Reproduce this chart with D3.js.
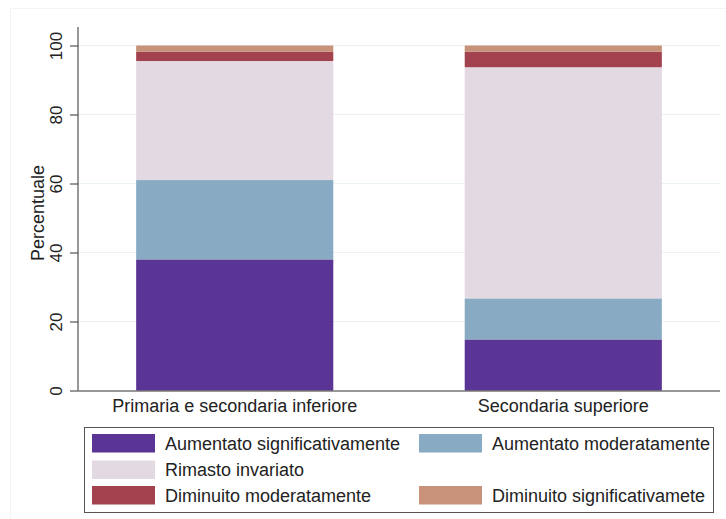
<!DOCTYPE html>
<html>
<head>
    <meta charset="utf-8" />
    <title>Percentuale</title>
    <style>
        body {
            margin: 0;
            background: #fff;
            font-family: "Liberation Sans", Arial, Helvetica, sans-serif;
        }

        .tick-label {
            font-size: 17px;
            fill: #222;
        }

        .axis-title {
            font-size: 18px;
            fill: #222;
            text-anchor: middle;
        }

        .cat-label {
            font-size: 18px;
            fill: #222;
            text-anchor: middle;
        }

        .legend-label {
            font-size: 18px;
            fill: #222;
        }
    </style>
</head>
<body>
    <script src="https://d3js.org/d3.v7.min.js"></script>
    <script>
        let categories = ['Primaria e secondaria inferiore', 'Secondaria superiore']

        let seriesNames = [
            'Aumentato significativamente',
            'Aumentato moderatamente',
            'Rimasto invariato',
            'Diminuito moderatamente',
            'Diminuito significativamete'
        ]

        let seriesColors = ['#5b3596', '#88abc3', '#e3d9e2', '#a3424f', '#c8927a']

        // one array per series, values per category
        let aumSig = [38.0, 14.8]
        let aumMod = [23.0, 11.9]
        let invariato = [34.5, 67.0]
        let dimMod = [2.7, 4.5]
        let dimSig = [1.8, 1.8]

        let yTicks = [0, 20, 40, 60, 80, 100]

        let seriesValues = [aumSig, aumMod, invariato, dimMod, dimSig]

        let width = 726,
            height = 519

        let plot = { left: 78, right: 720, top: 45.5, bottom: 390.5 }

        let y = d3.scaleLinear()
                    .domain([0, 100])
                    .range([plot.bottom, plot.top])

        let x = d3.scaleBand()
                    .domain(categories)
                    .range([plot.left, plot.right])
                    .paddingInner(0.4)
                    .paddingOuter(0.177)

        let svg = d3.select('body')
                    .append('svg')
                    .attr('width', width)
                    .attr('height', height)

        // faint outer frame
        svg.append('rect')
            .attr('x', 10.5)
            .attr('y', 8.5)
            .attr('width', width - 10)
            .attr('height', height)
            .attr('fill', 'none')
            .attr('stroke', '#f2f4f4')

        // gridlines
        svg.append('g')
            .selectAll('line')
            .data(yTicks.filter(d => d > 0))
            .enter()
                .append('line')
                .attr('x1', plot.left)
                .attr('x2', plot.right)
                .attr('y1', d => y(d))
                .attr('y2', d => y(d))
                .attr('stroke', '#eaf2f2')
                .attr('stroke-width', 1)

        // stacked bars
        let stackData = categories.map(function (c, i) {
            let row = { cat: c }
            seriesNames.forEach(function (s, j) { row[s] = seriesValues[j][i] })
            return row
        })

        let stacked = d3.stack().keys(seriesNames)(stackData)

        svg.append('g')
            .selectAll('g')
            .data(stacked)
            .enter()
                .append('g')
                .attr('fill', (d, i) => seriesColors[i])
                .selectAll('rect')
                .data(d => d)
                .enter()
                    .append('rect')
                    .attr('x', d => x(d.data.cat))
                    .attr('width', x.bandwidth())
                    .attr('y', d => y(d[1]))
                    .attr('height', d => y(d[0]) - y(d[1]))

        // y axis
        let yAxis = svg.append('g')
            .attr('transform', `translate(${plot.left}, 0)`)
            .call(d3.axisLeft(y).tickValues(yTicks).tickSize(8).tickFormat(d3.format('d')))

        yAxis.select('.domain').attr('stroke', '#333').attr('d', `M0,${y(0)}V27`)
        yAxis.selectAll('.tick line').attr('stroke', '#333')
        yAxis.selectAll('.tick text')
            .attr('class', 'tick-label')
            .attr('font-family', null)
            .attr('font-size', null)
            .attr('x', null)
            .attr('text-anchor', 'middle')
            .attr('transform', 'translate(-22, 0) rotate(-90)')
            .attr('dy', '0.35em')

        // x axis line
        svg.append('line')
            .attr('x1', plot.left)
            .attr('x2', plot.right)
            .attr('y1', y(0) + 0.5)
            .attr('y2', y(0) + 0.5)
            .attr('stroke', '#333')

        svg.append('g')
            .selectAll('text')
            .data(categories)
            .enter()
                .append('text')
                .classed('cat-label', true)
                .attr('x', d => x(d) + x.bandwidth() / 2)
                .attr('y', 412)
                .text(d => d)

        // y axis title
        svg.append('text')
            .classed('axis-title', true)
            .attr('transform', `translate(44, 213) rotate(-90)`)
            .text('Percentuale')

        // legend
        let legend = svg.append('g')

        legend.append('rect')
            .attr('x', 84.5)
            .attr('y', 427.5)
            .attr('width', 629)
            .attr('height', 85)
            .attr('fill', '#fff')
            .attr('stroke', '#555')

        let legendRows = [
            { s: 0, col: 0, row: 0 },
            { s: 1, col: 1, row: 0 },
            { s: 2, col: 0, row: 1 },
            { s: 3, col: 0, row: 2 },
            { s: 4, col: 1, row: 2 }
        ]

        let colX = [92, 419],
            rowY = [434, 460.5, 486]

        let items = legend.selectAll('g.item')
            .data(legendRows)
            .enter()
                .append('g')
                .classed('item', true)
                .attr('transform', d => `translate(${colX[d.col]}, ${rowY[d.row]})`)

        items.append('rect')
            .attr('width', 63)
            .attr('height', 18.5)
            .attr('fill', d => seriesColors[d.s])

        items.append('text')
            .classed('legend-label', true)
            .attr('x', 73)
            .attr('y', 15.5)
            .text(d => seriesNames[d.s])
    </script>
</body>
</html>
